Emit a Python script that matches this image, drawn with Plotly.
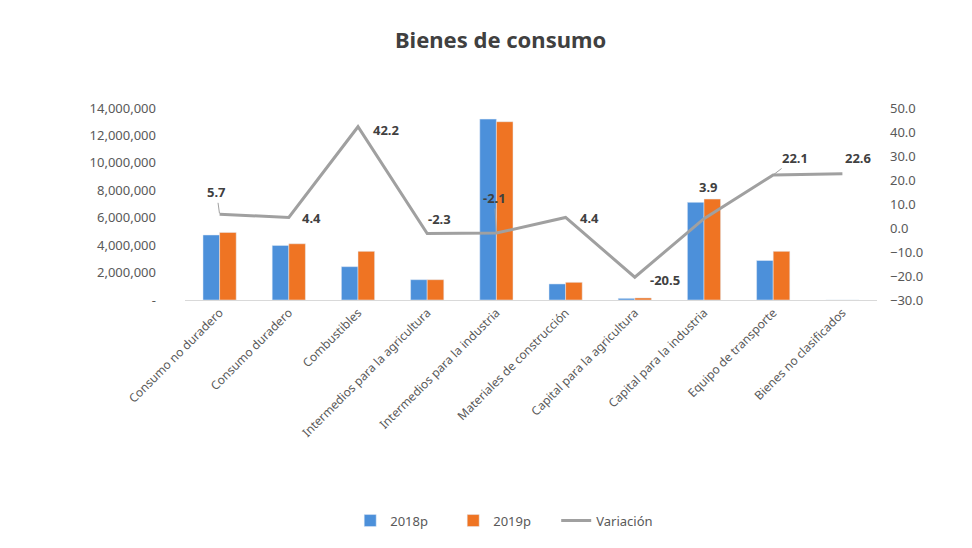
import plotly.graph_objects as go

categories = ["Consumo no duradero", "Consumo duradero", "Combustibles",
              "Intermedios para la agricultura", "Intermedios para la industria",
              "Materiales de construcción", "Capital para la agricultura",
              "Capital para la industria", "Equipo de transporte", "Bienes no clasificados"]
v2018 = [4740000, 3980000, 2430000, 1480000, 13190000, 1170000, 120000, 7120000, 2880000, 0]
v2019 = [4930000, 4100000, 3550000, 1480000, 13000000, 1290000, 150000, 7360000, 3550000, 0]
variacion = [5.7, 4.4, 42.2, -2.3, -2.1, 4.4, -20.5, 3.9, 22.1, 22.6]

left_ticks = [0, 2000000, 4000000, 6000000, 8000000, 10000000, 12000000, 14000000]
left_text = ["-", "2,000,000", "4,000,000", "6,000,000", "8,000,000", "10,000,000", "12,000,000", "14,000,000"]
right_ticks = [-30, -20, -10, 0, 10, 20, 30, 40, 50]

FONT = "Noto Sans"
fig = go.Figure()
fig.add_trace(go.Bar(x=categories, y=v2018, name="2018p", marker_color="#4C90DA"))
fig.add_trace(go.Bar(x=categories, y=v2019, name="2019p", marker_color="#EF7423"))
fig.add_trace(go.Scatter(x=categories, y=variacion, name="Variación", mode="lines",
                         line=dict(color="#A0A0A0", width=3), yaxis="y2"))

# label offsets (dx right, up) in pixels and whether a leader line is drawn
offsets = [(-3, 22), (23, -1), (28, -3), (12, 15), (-2, 35), (24, -1), (30, -3), (4, 32), (22, 17), (16, 16)]
leaders = [True, False, False, False, True, False, False, False, True, False]
for c, v, (dx, up), ld in zip(categories, variacion, offsets, leaders):
    if ld:
        fig.add_annotation(x=c, y=v, xref="x", yref="y2", text=f"<b>{v:.1f}</b>",
                           showarrow=True, arrowhead=0, arrowwidth=1, arrowcolor="#A0A0A0",
                           ax=dx, ay=-up, standoff=1, startstandoff=0,
                           font=dict(family=FONT, size=13, color="#404040"))
    else:
        fig.add_annotation(x=c, y=v, xref="x", yref="y2", text=f"<b>{v:.1f}</b>",
                           showarrow=False, xshift=dx, yshift=up,
                           font=dict(family=FONT, size=13, color="#404040"))

fig.update_layout(
    width=964, height=540,
    paper_bgcolor="white", plot_bgcolor="white",
    margin=dict(l=177, r=95, t=100, b=245),
    barmode="group", bargap=0.52, bargroupgap=0,
    title=dict(text="<b>Bienes de consumo</b>", x=0.511, xref="container", xanchor="center",
               y=0.94, yanchor="middle",
               font=dict(family=FONT, size=22, color="#404040")),
    font=dict(family=FONT, size=13, color="#595959"),
    xaxis=dict(tickangle=-45, showline=True, linecolor="#D9D9D9", linewidth=1,
               ticks="", showgrid=False, tickfont=dict(size=12, color="#595959")),
    yaxis=dict(range=[0, 14000000], tickvals=left_ticks, ticktext=left_text,
               showgrid=False, zeroline=False, showline=False, ticks="", ticklabelstandoff=28,
               tickfont=dict(size=13, color="#595959")),
    yaxis2=dict(range=[-30, 50], tickvals=right_ticks, tickformat=".1f", overlaying="y",
                side="right", showgrid=False, zeroline=False, showline=False, ticks="",
                ticklabelstandoff=12, tickfont=dict(size=13, color="#595959")),
    legend=dict(orientation="h", x=0.462, xanchor="center", y=-1.149, yanchor="middle",
                entrywidth=58, entrywidthmode="pixels",
                font=dict(size=13, color="#595959"), traceorder="normal"),
)
fig.write_html("out.html")
